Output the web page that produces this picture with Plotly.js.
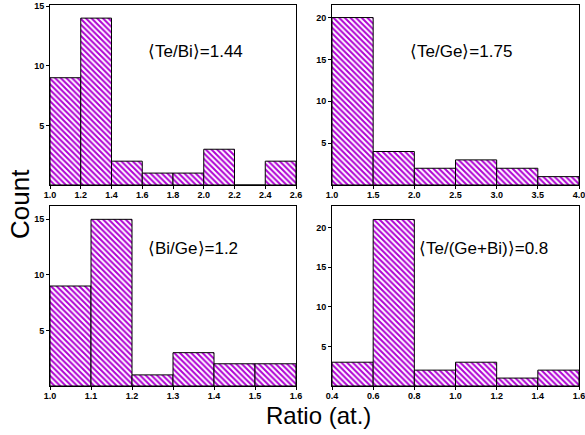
<!DOCTYPE html>
<html>
<head>
<meta charset="utf-8">
<script src="https://cdn.plot.ly/plotly-3.0.1.min.js"></script>
<style>html,body{margin:0;padding:0;background:#fff;}#chart{width:585px;height:435px;}</style>
</head>
<body>
<div id="chart"></div>
<script>
// Panel 1: Te/Bi
const edgesTeBi = [1.0, 1.2, 1.4, 1.6, 1.8, 2.0, 2.2, 2.4, 2.6];
const countsTeBi = [9, 14, 2, 1, 1, 3, 0, 2];
const ticksTeBi = [1.0, 1.2, 1.4, 1.6, 1.8, 2.0, 2.2, 2.4, 2.6];
// Panel 2: Te/Ge
const edgesTeGe = [1.0, 1.5, 2.0, 2.5, 3.0, 3.5, 4.0];
const countsTeGe = [20, 4, 2, 3, 2, 1];
const ticksTeGe = [1.0, 1.5, 2.0, 2.5, 3.0, 3.5, 4.0];
// Panel 3: Bi/Ge
const edgesBiGe = [1.0, 1.1, 1.2, 1.3, 1.4, 1.5, 1.6];
const countsBiGe = [9, 15, 1, 3, 2, 2];
const ticksBiGe = [1.0, 1.1, 1.2, 1.3, 1.4, 1.5, 1.6];
// Panel 4: Te/(Ge+Bi)
const edgesTeGeBi = [0.4, 0.6, 0.8, 1.0, 1.2, 1.4, 1.6];
const countsTeGeBi = [3, 21, 2, 3, 1, 2];
const ticksTeGeBi = [0.4, 0.6, 0.8, 1.0, 1.2, 1.4, 1.6];

const labels = ['⟨Te/Bi⟩=1.44', '⟨Te/Ge⟩=1.75', '⟨Bi/Ge⟩=1.2', '⟨Te/(Ge+Bi)⟩=0.8'];
const xTitle = 'Ratio (at.)';
const yTitle = 'Count';

const panels = [
  {edges: edgesTeBi, counts: countsTeBi, xt: ticksTeBi, yr: 15.1, yt: [5,10,15]},
  {edges: edgesTeGe, counts: countsTeGe, xt: ticksTeGe, yr: 21.5, yt: [5,10,15,20]},
  {edges: edgesBiGe, counts: countsBiGe, xt: ticksBiGe, yr: 16.2, yt: [5,10,15]},
  {edges: edgesTeGeBi, counts: countsTeGeBi, xt: ticksTeGeBi, yr: 22.7, yt: [5,10,15,20]}
];

const FONT = 'Arial, "Liberation Sans", sans-serif';
const W = 585, H = 435;
const xdom = [[50/W, 296/W], [332/W, 579/W]];
const ydom = [[(H-185)/H, (H-5)/H], [(H-386)/H, (H-206)/H]];
const purple = '#b000d4';

const traces = [];
const layout = {
  width: W, height: H,
  margin: {l: 0, r: 0, t: 0, b: 0},
  paper_bgcolor: '#fff', plot_bgcolor: '#fff',
  showlegend: false,
  font: {family: FONT, color: '#000'},
  annotations: []
};

const annPos = [[196, 52], [461, 52], [193, 248], [484, 248]];

panels.forEach((p, i) => {
  const n = i + 1;
  const xa = 'x' + (n === 1 ? '' : n), ya = 'y' + (n === 1 ? '' : n);
  const centers = p.counts.map((c, k) => (p.edges[k] + p.edges[k+1]) / 2);
  const widths = p.counts.map((c, k) => p.edges[k+1] - p.edges[k]);
  traces.push({
    type: 'bar', x: centers, y: p.counts, width: widths,
    xaxis: xa, yaxis: ya,
    marker: {
      color: '#ffffff',
      line: {color: '#000', width: 1},
      pattern: {shape: '\\', fgcolor: purple, bgcolor: '#ffffff', size: 4, solidity: 0.5, fillmode: 'replace'}
    },
    hoverinfo: 'skip'
  });
  const col = i % 2, row = Math.floor(i / 2);
  const axCommon = {
    showline: true, mirror: true, linecolor: '#000', linewidth: 1,
    showgrid: false, zeroline: false,
    ticks: 'outside', ticklen: 3, tickwidth: 1, tickcolor: '#000',
    ticklabeloverflow: 'allow',
    tickfont: {family: FONT, size: 9, color: '#000', weight: 'bold'}
  };
  layout['xaxis' + (n === 1 ? '' : n)] = Object.assign({}, axCommon, {
    domain: xdom[col], anchor: ya, range: [p.edges[0], p.edges[p.edges.length-1]],
    tickvals: p.xt, ticktext: p.xt.map(v => v.toFixed(1)), ticklabelstandoff: -2
  });
  layout['yaxis' + (n === 1 ? '' : n)] = Object.assign({}, axCommon, {
    domain: ydom[row], anchor: xa, range: [0, p.yr],
    tickvals: p.yt, ticktext: p.yt.map(String)
  });
  layout.annotations.push({
    xref: 'paper', yref: 'paper', x: annPos[i][0] / W, y: 1 - annPos[i][1] / H,
    xanchor: 'center', yanchor: 'middle', showarrow: false,
    text: labels[i], font: {size: 17, color: '#000', family: FONT}
  });
});

layout.annotations.push({
  xref: 'paper', yref: 'paper', x: 20 / W, y: 1 - 204 / H,
  xanchor: 'center', yanchor: 'middle', showarrow: false, textangle: -90,
  text: yTitle, font: {size: 26, color: '#000', family: FONT}
});
layout.annotations.push({
  xref: 'paper', yref: 'paper', x: 318 / W, y: 1 - 415 / H,
  xanchor: 'center', yanchor: 'middle', showarrow: false,
  text: xTitle, font: {size: 24, color: '#000', family: FONT}
});

Plotly.newPlot('chart', traces, layout, {displayModeBar: false, staticPlot: true});
</script>
</body>
</html>
